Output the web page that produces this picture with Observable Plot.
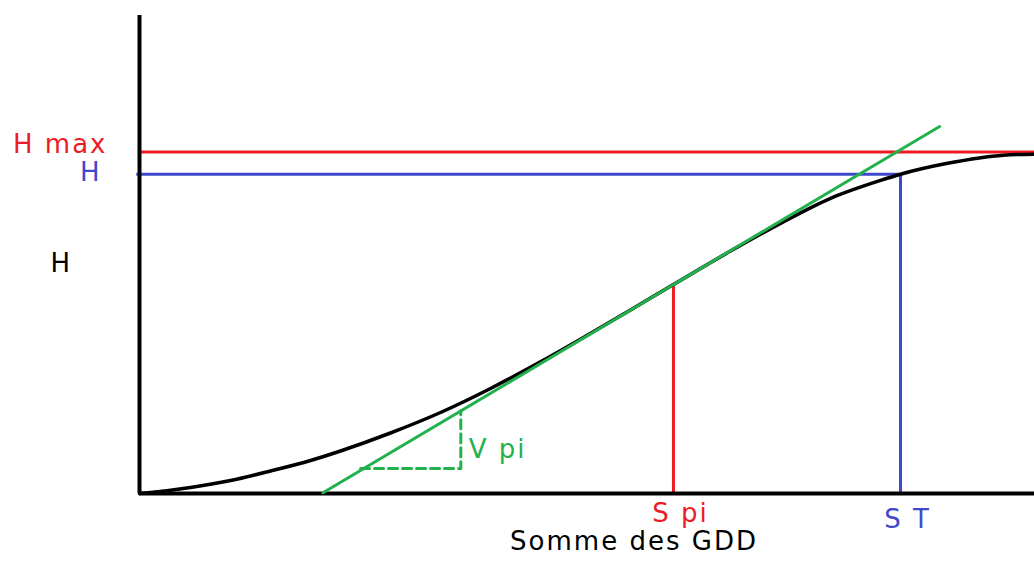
<!DOCTYPE html>
<html>
<head>
<meta charset="utf-8">
<script src="https://cdn.jsdelivr.net/npm/d3@7"></script>
<script src="https://cdn.jsdelivr.net/npm/@observablehq/plot@0.6"></script>
<style>
  html, body { margin: 0; padding: 0; background: #fff; }
</style>
</head>
<body>
<div id="chart"></div>
<script>
// Growth curve: cumulative GDD (x) vs height H (y)
const curveGDD = [0, 12.3, 57, 101.7, 146.4, 191.1, 224.6, 280.4, 336.3, 392.2, 448, 492.7, 548.6, 596.6, 660.3, 716.2, 772.1, 828, 850.3, 902.8, 965.4, 1000];
const curveH   = [0, 0.29, 1.76, 3.81, 6.59, 9.67, 12.45, 17.72, 23.72, 30.76, 38.57, 45.2, 53.75, 61.2, 71.0, 79.1, 86.45, 91.7, 93.5, 96.7, 99.1, 99.4];

// Key values
const Hmax = 100;
const Hval = 93.5;
const Spi = 596.6;
const Hpi = 61.2;
const ST = 850.3;

// Tangent at the inflection point (endpoints)
const tangentGDD = [205, 894];
const tangentH   = [0.2, 107.5];

// Slope triangle (dashed)
const triGDD = [247, 359, 359];
const triH   = [7.3, 7.3, 24.3];

const RED = "#ed1c24", BLUE = "#3f48cc", GREEN = "#22b14c";

const curve = curveGDD.map((x, i) => ({x, y: curveH[i]}));
const tangent = tangentGDD.map((x, i) => ({x, y: tangentH[i]}));
const tri = triGDD.map((x, i) => ({x, y: triH[i]}));

const FS = 26;
const font = {fontSize: FS};

const chart = Plot.plot({
  width: 1034,
  height: 561,
  marginLeft: 139,
  marginRight: 0,
  marginTop: 15,
  marginBottom: 68,
  x: {domain: [0, 1000], axis: null},
  y: {domain: [0, 140], axis: null},
  style: {fontFamily: "DejaVu Sans", letterSpacing: "2px", background: "#fff", overflow: "visible"},
  marks: [
    // reference lines
    Plot.ruleY([Hmax], {x1: 0, x2: 1000, stroke: RED, strokeWidth: 3}),
    Plot.ruleY([Hval], {x1: -3, x2: ST, stroke: BLUE, strokeWidth: 3}),
    Plot.ruleX([ST], {y1: 0, y2: Hval, stroke: BLUE, strokeWidth: 3}),
    Plot.ruleX([Spi], {y1: 0, y2: Hpi, stroke: RED, strokeWidth: 3}),
    // axes
    Plot.ruleX([0], {y1: 0, y2: 140, stroke: "#000", strokeWidth: 4}),
    Plot.ruleY([0], {x1: 0, x2: 1000, stroke: "#000", strokeWidth: 4}),
    // curve
    Plot.line(curve, {x: "x", y: "y", curve: "monotone-x", stroke: "#000", strokeWidth: 3.5}),
    // tangent and slope triangle
    Plot.line(tangent, {x: "x", y: "y", stroke: GREEN, strokeWidth: 3}),
    Plot.line(tri, {x: "x", y: "y", stroke: GREEN, strokeWidth: 3, strokeDasharray: "9,5"}),
    // labels
    Plot.text(["H max"], {x: 0, y: Hmax, text: d => d, fill: RED, textAnchor: "end", dx: -32, dy: -7, ...font}),
    Plot.text(["H"], {x: 0, y: Hval, text: d => d, fill: BLUE, textAnchor: "end", dx: -38, dy: -2, ...font}),
    Plot.text(["H"], {frameAnchor: "left", text: d => d, fill: "#000", textAnchor: "start", dx: -89, dy: 9, ...font}),
    Plot.text(["V pi"], {x: triGDD[1], y: triH[0], text: d => d, fill: GREEN, textAnchor: "start", dx: 8, dy: -19, ...font}),
    Plot.text(["S pi"], {x: Spi, y: 0, text: d => d, fill: RED, textAnchor: "middle", dx: 7, dy: 20, ...font}),
    Plot.text(["S T"], {x: ST, y: 0, text: d => d, fill: BLUE, textAnchor: "middle", dx: 7, dy: 26, ...font}),
    Plot.text(["Somme des GDD"], {frameAnchor: "bottom", text: d => d, fill: "#000", textAnchor: "middle", dx: 47, dy: 56, ...font})
  ]
});
document.getElementById("chart").appendChild(chart);
</script>
</body>
</html>
